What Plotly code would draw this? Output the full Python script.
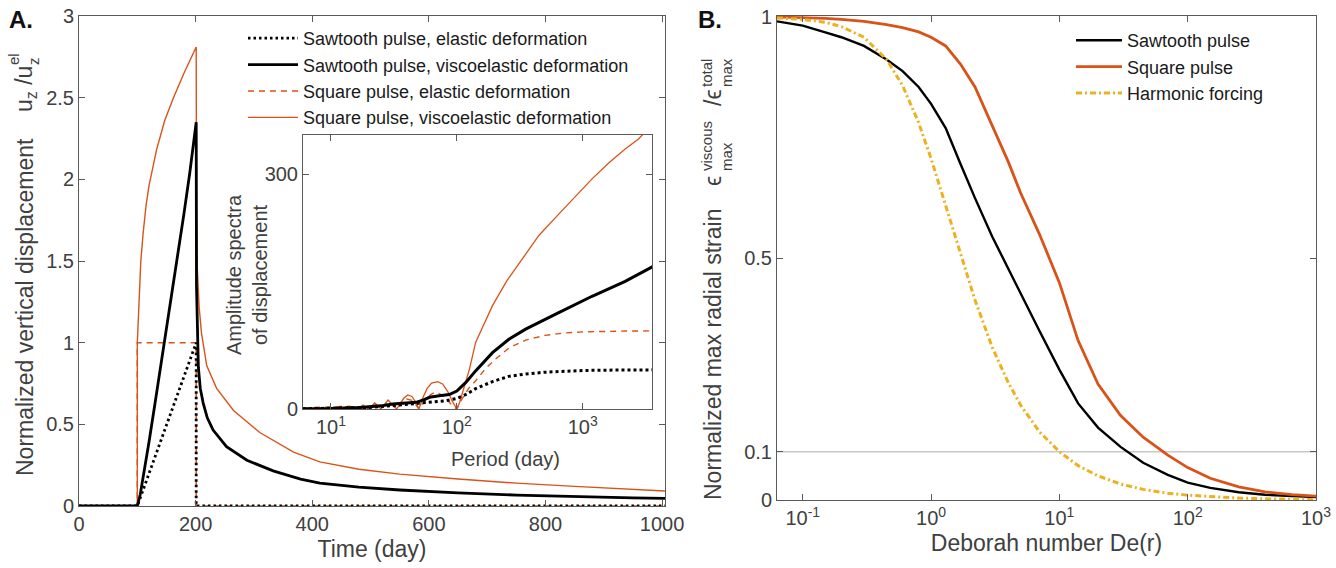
import plotly.graph_objects as go
import math

W, H = 1336, 568


def px(x):
    return x / W


def py(y):
    return 1 - y / H


ORANGE = "#D95319"
YELLOW = "#EDB120"
BLACK = "#000000"
AXC = "#5a5a5a"
TXT = "#404040"
FONT = "Liberation Sans, Arial, Helvetica, sans-serif"

# ---------------- Panel A: time series (day, normalized displacement) ----------------
t_saw_el = [0, 100, 201, 201, 1005]
u_saw_el = [0, 0, 1, 0, 0]

t_sq_el = [0, 100, 100, 201, 201, 1005]
u_sq_el = [0, 0, 1, 1, 0, 0]

t_saw_ve = [0, 100, 105, 110, 120, 130, 140, 150, 160, 170, 180, 190, 201,
            201.5, 202.5, 204.7, 208, 213, 220, 230, 253, 288, 333, 380, 413,
            480, 550, 650, 750, 850, 950, 1005]
u_saw_ve = [0, 0, 0.07, 0.17, 0.39, 0.62, 0.85, 1.08, 1.31, 1.55, 1.79, 2.04, 2.35,
            1.35, 1.1, 0.85, 0.72, 0.63, 0.54, 0.465, 0.363, 0.28, 0.215, 0.165, 0.14,
            0.115, 0.098, 0.08, 0.067, 0.057, 0.05, 0.047]

t_sq_ve = [0, 100, 100, 101, 103, 106, 110, 115, 120, 133, 147, 162, 180, 201,
           201.5, 203, 206, 210, 219, 236, 265, 310, 368, 413, 480, 550, 650, 750,
           850, 950, 1005]
u_sq_ve = [0, 0, 1.0, 1.1, 1.3, 1.5, 1.67, 1.84, 1.96, 2.18, 2.36, 2.5, 2.65, 2.81,
           1.81, 1.45, 1.22, 1.06, 0.86, 0.72, 0.585, 0.45, 0.33, 0.27, 0.225, 0.195,
           0.165, 0.14, 0.12, 0.1, 0.092]

# ---------------- Inset: amplitude spectra vs period (day) ----------------
p_sq_el = [6, 10, 14, 16.7, 18.2, 20, 22.2, 25, 28.6, 33.3, 36, 40, 44, 47, 50,
           54, 58, 62, 66.7, 72, 78, 85, 92, 100, 111, 125, 141, 170, 200, 260,
           352, 500, 700, 1000, 1500, 2200, 3600]
a_sq_el = [1.5, 2.5, 3.5, 0, 5.5, 0, 7, 0, 9, 0, 7.5, 12.7, 11, 6, 0,
           8, 14, 18.5, 21.2, 20, 16.6, 10.4, 4.5, 0, 14, 27, 36, 52, 63, 78,
           88, 94, 97, 98.5, 99.3, 99.6, 99.8]

p_sq_ve = [6, 10, 14, 16.7, 18, 20, 22.3, 25, 28.4, 33.3, 36, 38, 40.8, 44, 47, 50,
           54, 58, 63, 70.5, 77, 85, 92, 100, 105, 111, 118, 126, 141, 160, 192,
           250, 352, 450, 645, 850, 1186, 1600, 2173, 2774, 3600]
a_sq_ve = [0.5, 1, 2, 0, 5, 0, 7.7, 0, 11.5, 0, 9, 14, 18, 16, 9, 0,
           15, 26, 33, 35, 32, 22, 10, 0, 8, 21, 38, 51, 85, 105, 132,
           164, 198, 222, 249, 270, 294, 314, 332, 345, 364]

p_saw_el = [6, 10, 20, 31, 45, 57, 70, 82, 100, 120, 141, 170, 192, 259, 352,
            500, 645, 1000, 2000, 3600]
a_saw_el = [0.3, 0.8, 2, 4.3, 6.5, 8.5, 9.5, 10.6, 13.5, 19, 26, 31, 35, 41.7, 44.7,
            47, 48, 49.2, 49.8, 50]

p_saw_ve = [6, 10, 17, 25, 31, 40, 47.6, 55, 60.7, 72.6, 87, 100, 118, 141.5, 165,
            192, 259, 352, 645, 1186, 2173, 3600]
a_saw_ve = [0, 0.5, 2, 4, 6.4, 7.5, 8.5, 12, 15, 17, 18.5, 23, 34, 49, 61,
            72, 89, 102, 123, 144, 163, 182]

# ---------------- Panel B: Deborah number ----------------
de = [0.063, 0.1, 0.15, 0.2, 0.3, 0.45, 0.6, 0.8, 1, 1.3, 1.7, 2.2, 3, 4, 5, 7,
      10, 14, 20, 30, 45, 70, 100, 150, 250, 400, 650, 1000]
r_saw = [0.991, 0.982, 0.968, 0.958, 0.94, 0.912, 0.888, 0.855, 0.82, 0.77, 0.695,
         0.625, 0.545, 0.478, 0.425, 0.35, 0.27, 0.2, 0.15, 0.11, 0.077, 0.052,
         0.036, 0.025, 0.016, 0.011, 0.008, 0.006]
r_sq = [1.0, 0.999, 0.997, 0.995, 0.991, 0.984, 0.978, 0.969, 0.958, 0.94, 0.902,
        0.855, 0.775, 0.7, 0.635, 0.55, 0.45, 0.33, 0.24, 0.175, 0.13, 0.093,
        0.067, 0.045, 0.027, 0.017, 0.011, 0.008]
r_harm = [0.998, 0.995, 0.989, 0.98, 0.958, 0.912, 0.858, 0.781, 0.707, 0.61, 0.507,
          0.414, 0.316, 0.243, 0.196, 0.141, 0.1, 0.071, 0.05, 0.033, 0.022, 0.014,
          0.01, 0.007, 0.004, 0.0025, 0.0015, 0.001]

a_xticks = [0, 200, 400, 600, 800, 1000]
a_yticks = [0, 0.5, 1, 1.5, 2, 2.5, 3]
b_xticks = [0.1, 1, 10, 100, 1000]
b_xtext = ["10<sup>-1</sup>", "10<sup>0</sup>", "10<sup>1</sup>", "10<sup>2</sup>", "10<sup>3</sup>"]
b_yticks = [0, 0.1, 0.5, 1]
in_xticks = [10, 100, 1000]
in_xtext = ["10<sup>1</sup>", "10<sup>2</sup>", "10<sup>3</sup>"]
in_yticks = [0, 300]

fig = go.Figure()

# Panel A traces (drawing order), legend order via legendrank
fig.add_trace(go.Scatter(x=t_sq_ve, y=u_sq_ve, mode="lines", xaxis="x", yaxis="y",
                         line=dict(color=ORANGE, width=1.4), legendrank=4,
                         name="Square pulse, viscoelastic deformation"))
fig.add_trace(go.Scatter(x=t_sq_el, y=u_sq_el, mode="lines", xaxis="x", yaxis="y",
                         line=dict(color=ORANGE, width=1.5, dash="6px,5px"), legendrank=3,
                         name="Square pulse, elastic deformation"))
fig.add_trace(go.Scatter(x=t_saw_ve, y=u_saw_ve, mode="lines", xaxis="x", yaxis="y",
                         line=dict(color=BLACK, width=2.8), legendrank=2,
                         name="Sawtooth pulse, viscoelastic deformation"))
fig.add_trace(go.Scatter(x=t_saw_el, y=u_saw_el, mode="lines", xaxis="x", yaxis="y",
                         line=dict(color=BLACK, width=2.8, dash="2.5px,3px"), legendrank=1,
                         name="Sawtooth pulse, elastic deformation"))

# Inset traces
fig.add_trace(go.Scatter(x=p_sq_ve, y=a_sq_ve, mode="lines", xaxis="x3", yaxis="y3",
                         line=dict(color=ORANGE, width=1.3), showlegend=False))
fig.add_trace(go.Scatter(x=p_sq_el, y=a_sq_el, mode="lines", xaxis="x3", yaxis="y3",
                         line=dict(color=ORANGE, width=1.4, dash="6px,5px"), showlegend=False))
fig.add_trace(go.Scatter(x=p_saw_ve, y=a_saw_ve, mode="lines", xaxis="x3", yaxis="y3",
                         line=dict(color=BLACK, width=3), showlegend=False))
fig.add_trace(go.Scatter(x=p_saw_el, y=a_saw_el, mode="lines", xaxis="x3", yaxis="y3",
                         line=dict(color=BLACK, width=3, dash="3px,3px"), showlegend=False))

# Panel B traces
fig.add_trace(go.Scatter(x=de, y=r_saw, mode="lines", xaxis="x2", yaxis="y2", legend="legend2",
                         line=dict(color=BLACK, width=2.4), name="Sawtooth pulse"))
fig.add_trace(go.Scatter(x=de, y=r_sq, mode="lines", xaxis="x2", yaxis="y2", legend="legend2",
                         line=dict(color=ORANGE, width=2.8), name="Square pulse"))
fig.add_trace(go.Scatter(x=de, y=r_harm, mode="lines", xaxis="x2", yaxis="y2", legend="legend2",
                         line=dict(color=YELLOW, width=3, dash="6px,3px,2px,3px"),
                         name="Harmonic forcing"))

axis_common = dict(showline=True, linecolor=AXC, linewidth=1, mirror="ticks",
                   ticks="inside", ticklen=6, tickcolor=AXC, tickwidth=1,
                   showgrid=False, zeroline=False, automargin=False,
                   tickfont=dict(family=FONT, size=20, color=TXT))

fig.update_layout(
    width=W, height=H, margin=dict(l=0, r=0, t=0, b=0),
    paper_bgcolor="white", plot_bgcolor="white",
    font=dict(family=FONT, size=20, color=TXT),
    xaxis=dict(domain=[px(79), px(665)], anchor="y", range=[0, 1005], tickvals=a_xticks,
               title=dict(text="Time (day)", font=dict(size=23, color=TXT), standoff=6),
               **axis_common),
    yaxis=dict(domain=[py(506), py(16)], anchor="x", range=[0, 3], tickvals=a_yticks,
               **axis_common),
    xaxis2=dict(domain=[px(777), px(1316)], anchor="y2", type="log",
                range=[math.log10(0.063), 3], tickvals=b_xticks, ticktext=b_xtext,
                title=dict(text="Deborah number De(r)", font=dict(size=23, color=TXT), standoff=6),
                **axis_common),
    yaxis2=dict(domain=[py(500), py(16)], anchor="x2", range=[0, 1.002], tickvals=b_yticks,
                ticktext=["0", "0.1", "0.5", "1"], **axis_common),
    xaxis3=dict(domain=[px(303), px(652)], anchor="y3", type="log",
                range=[math.log10(6), math.log10(3550)], tickvals=in_xticks, ticktext=in_xtext,
                **axis_common),
    yaxis3=dict(domain=[py(409), py(135)], anchor="x3", range=[0, 350], tickvals=in_yticks,
                **axis_common),
    legend=dict(x=px(243), y=py(20), xanchor="left", yanchor="top", bgcolor="rgba(0,0,0,0)",
                font=dict(family=FONT, size=18, color="#1a1a1a"), itemwidth=50,
                tracegroupgap=0),
    legend2=dict(x=px(1071), y=py(22), xanchor="left", yanchor="top", bgcolor="rgba(0,0,0,0)",
                 font=dict(family=FONT, size=18, color="#1a1a1a"), itemwidth=46),
    shapes=[dict(type="line", xref="x2 domain", yref="y2", x0=0, x1=1, y0=0.1, y1=0.1,
                 line=dict(color="#c8c8c8", width=1.5), layer="below")],
)

ann = []
# panel letters
ann.append(dict(x=px(21), y=py(19), text="<b>A.</b>", font=dict(size=24, color="#111111")))
ann.append(dict(x=px(710), y=py(19), text="<b>B.</b>", font=dict(size=24, color="#111111")))
# Panel A y title
ann.append(dict(x=px(25), y=py(307), text="Normalized vertical displacement", textangle=-90,
                font=dict(size=23, color=TXT)))
ann.append(dict(x=px(25), y=py(89), text="u<sub>z</sub> /u", textangle=-90,
                font=dict(size=23, color=TXT)))
ann.append(dict(x=px(23), y=py(59), text="el<br>z", textangle=-90, align="left",
                font=dict(size=15, color=TXT)))
# Panel B y title
ann.append(dict(x=px(713), y=py(355), text="Normalized max radial strain", textangle=-90,
                font=dict(size=23, color=TXT)))
ann.append(dict(x=px(713), y=py(181), text="ϵ", textangle=-90, font=dict(size=23, color=TXT)))
ann.append(dict(x=px(716), y=py(146), text="viscous<br>max", textangle=-90, align="left",
                font=dict(size=15, color=TXT)))
ann.append(dict(x=px(713), y=py(98), text="/ϵ", textangle=-90, font=dict(size=23, color=TXT)))
ann.append(dict(x=px(716), y=py(72), text="total<br>max", textangle=-90, align="left",
                font=dict(size=15, color=TXT)))
# Inset titles
ann.append(dict(x=px(247), y=py(275), text="Amplitude spectra<br>of displacement", textangle=-90,
                font=dict(size=20, color=TXT)))
ann.append(dict(x=px(505), y=py(459), text="Period (day)", font=dict(size=20, color=TXT)))

for a in ann:
    a.update(xref="paper", yref="paper", showarrow=False, xanchor="center", yanchor="middle")
fig.update_layout(annotations=ann)

fig.write_html("out.html", config={"displayModeBar": False},
               post_script="document.body.style.margin='0px';document.body.style.overflow='hidden';")
